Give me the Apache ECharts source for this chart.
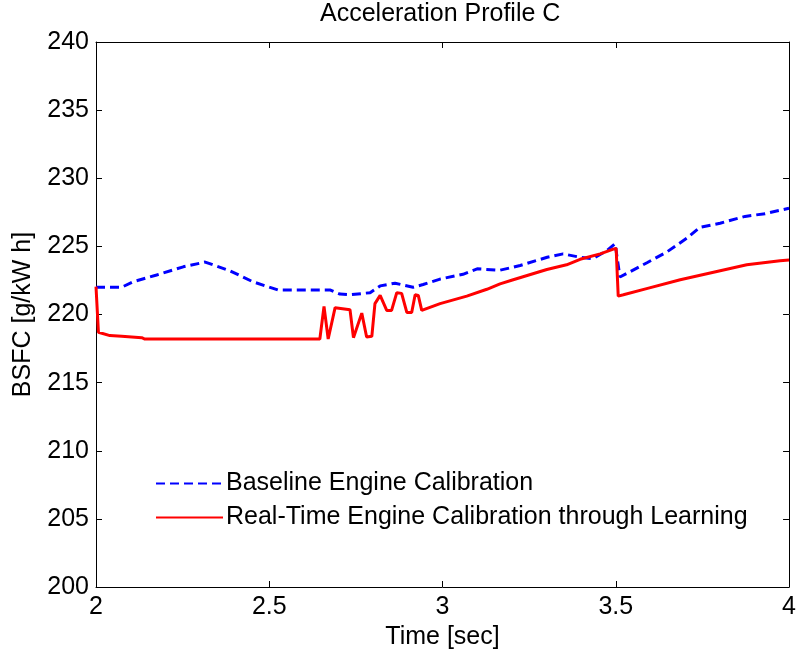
<!DOCTYPE html>
<html>
<head>
<meta charset="utf-8">
<script src="https://cdn.jsdelivr.net/npm/echarts@6/dist/echarts.min.js"></script>
<style>html,body{margin:0;padding:0;background:#fff}#c{width:799px;height:655px}</style>
</head>
<body>
<div id="c"></div>
<script>
const titleText = 'Acceleration Profile C';
const xName = 'Time [sec]';
const yName = 'BSFC [g/kW h]';
const seriesNames = ['Baseline Engine Calibration', 'Real-Time Engine Calibration through Learning'];

const baseT = [2.000, 2.074, 2.107, 2.175, 2.252, 2.315, 2.387, 2.453, 2.525, 2.675, 2.704, 2.733, 2.791, 2.820, 2.863, 2.915, 2.944, 2.993, 3.059, 3.100, 3.166, 3.224, 3.302, 3.348, 3.397, 3.434, 3.475, 3.498, 3.512, 3.590, 3.648, 3.705, 3.743, 3.801, 3.873, 3.931, 4.000];
const baseV = [222.0, 222.0, 222.4, 222.9, 223.5, 223.85, 223.2, 222.4, 221.8, 221.8, 221.5, 221.45, 221.6, 222.1, 222.3, 222.0, 222.2, 222.6, 222.95, 223.35, 223.25, 223.6, 224.2, 224.45, 224.2, 224.1, 224.7, 225.2, 222.75, 223.8, 224.6, 225.6, 226.4, 226.7, 227.2, 227.4, 227.8];

const rtT = [2.000, 2.007, 2.040, 2.074, 2.132, 2.141, 2.646, 2.658, 2.670, 2.690, 2.733, 2.743, 2.767, 2.781, 2.796, 2.805, 2.820, 2.839, 2.853, 2.868, 2.882, 2.897, 2.911, 2.921, 2.930, 2.940, 2.993, 3.070, 3.128, 3.166, 3.204, 3.301, 3.358, 3.397, 3.455, 3.493, 3.501, 3.507, 3.522, 3.589, 3.686, 3.782, 3.878, 3.974, 4.000];
const rtV = [222.05, 218.7, 218.45, 218.4, 218.3, 218.2, 218.2, 220.6, 218.2, 220.5, 220.35, 218.3, 220.1, 218.35, 218.4, 220.8, 221.4, 220.3, 220.3, 221.6, 221.55, 220.15, 220.15, 221.45, 221.4, 220.3, 220.8, 221.35, 221.85, 222.25, 222.55, 223.3, 223.65, 224.05, 224.45, 224.8, 224.85, 221.35, 221.45, 221.9, 222.55, 223.1, 223.65, 223.95, 224.0];

const xMin = 2, xMax = 4, xStep = 0.5;
const yMin = 200, yMax = 240, yStep = 5;

const pairs = (t, v) => t.map((x, i) => [x, v[i]]);
const FONT = 'Liberation Sans, Arial, sans-serif';
const FS = 25;

const axisCommon = {
  axisLine: { show: true, onZero: false, lineStyle: { color: '#000', width: 1 } },
  axisTick: { show: true, inside: true, length: 6, lineStyle: { color: '#000', width: 1 } },
  splitLine: { show: false }
};

const chart = echarts.init(document.getElementById('c'), null, { renderer: 'canvas' });
chart.setOption({
  backgroundColor: '#fff',
  animation: false,
  title: {
    text: titleText, left: 320, top: 2, padding: 0,
    textStyle: { fontFamily: FONT, fontSize: FS, fontWeight: 'normal', color: '#000' }
  },
  grid: { left: 96, right: 9, top: 42, bottom: 68, containLabel: false },
  legend: {
    orient: 'vertical', left: 155, top: 471, padding: 0,
    itemWidth: 67, itemHeight: 14, itemGap: 9,
    data: seriesNames,
    itemStyle: { opacity: 0 },
    textStyle: { fontFamily: FONT, fontSize: FS, color: '#000', lineHeight: 25, padding: [0, 0, 0, -2] }
  },
  xAxis: [
    Object.assign({
      type: 'value', min: xMin, max: xMax, interval: xStep, position: 'bottom',
      name: xName, nameLocation: 'middle', nameGap: 37,
      nameTextStyle: { fontFamily: FONT, fontSize: FS, color: '#000' },
      axisLabel: { fontFamily: FONT, fontSize: FS, color: '#000', margin: 8 }
    }, axisCommon),
    Object.assign({
      type: 'value', min: xMin, max: xMax, interval: xStep, position: 'top',
      axisLabel: { show: false }
    }, axisCommon)
  ],
  yAxis: [
    Object.assign({
      type: 'value', min: yMin, max: yMax, interval: yStep, position: 'left',
      name: yName, nameLocation: 'middle', nameGap: 60,
      nameTextStyle: { fontFamily: FONT, fontSize: FS, color: '#000' },
      axisLabel: { fontFamily: FONT, fontSize: FS, color: '#000', margin: 7 }
    }, axisCommon),
    Object.assign({
      type: 'value', min: yMin, max: yMax, interval: yStep, position: 'right',
      axisLabel: { show: false }
    }, axisCommon)
  ],
  series: [
    {
      name: seriesNames[0], type: 'line', data: pairs(baseT, baseV),
      xAxisIndex: 0, yAxisIndex: 0, symbol: 'none', showSymbol: false,
      lineStyle: { color: '#0000ff', width: 3, type: [9, 5] },
      itemStyle: { color: '#0000ff' }, z: 2
    },
    {
      name: seriesNames[1], type: 'line', data: pairs(rtT, rtV),
      xAxisIndex: 0, yAxisIndex: 0, symbol: 'none', showSymbol: false,
      lineStyle: { color: '#ff0000', width: 3, type: 'solid' },
      itemStyle: { color: '#ff0000' }, z: 3
    }
  ]
});
</script>
</body>
</html>
